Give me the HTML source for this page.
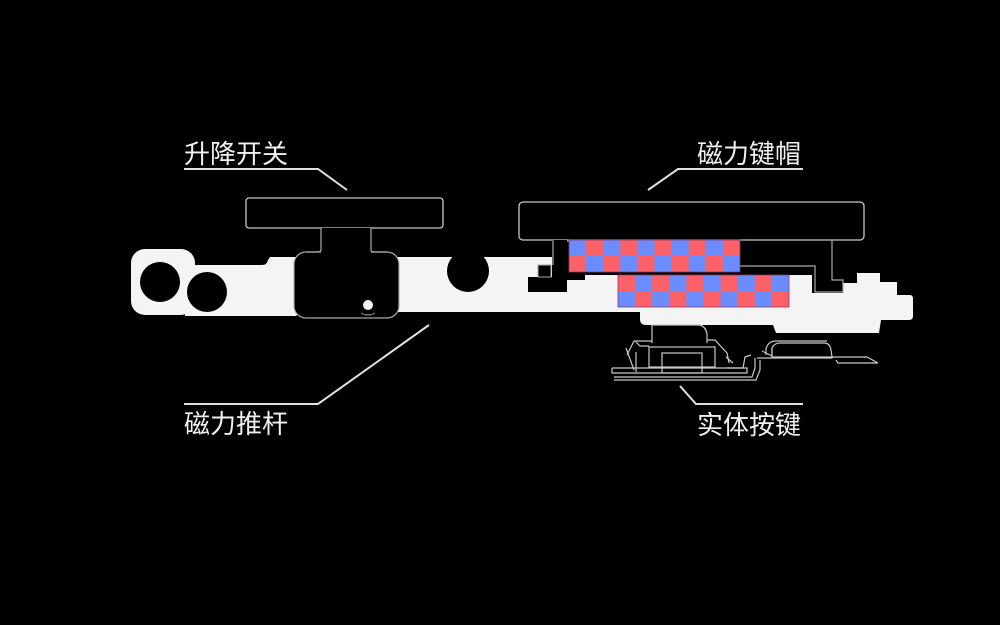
<!DOCTYPE html>
<html>
<head>
<meta charset="utf-8">
<style>
  html, body { margin: 0; padding: 0; background: #000; }
  body { width: 1000px; height: 625px; overflow: hidden; }
  svg { display: block; }
  text { font-family: "Liberation Sans", "Noto Sans CJK SC", sans-serif; font-size: 26px; fill: #f0f0f0; }
</style>
</head>
<body>
<svg width="1000" height="625" viewBox="0 0 1000 625" xmlns="http://www.w3.org/2000/svg">
  <rect x="0" y="0" width="1000" height="625" fill="#000"/>

  <!-- White bar body -->
  <rect x="131" y="249" width="64" height="66" rx="14" fill="#f4f4f4"/>
  <path d="M 185 265 L 262 265 Q 267 265 268 260 L 270 257 L 567 257 L 567 280 L 585 280 L 585 275 L 812 275 L 812 293 L 843 293 L 843 283 L 857 283 L 857 273 L 880 273 L 880 282 L 897 282 L 897 295 L 910 295 Q 913 295 913 299 L 913 316 Q 913 320 909 320 L 881 320 L 879 333 L 776 333 L 773 325 L 646 325 Q 640 325 640 319 L 640 312 L 300 312 L 296 316 L 185 316 Z" fill="#f4f4f4"/>

  <!-- Holes in white bar -->
  <circle cx="160" cy="282" r="20" fill="#000"/>
  <circle cx="207" cy="292" r="20" fill="#000"/>
  <circle cx="468" cy="271" r="21" fill="#000"/>

  <!-- Lift switch (升降开关) -->
  <rect x="246" y="198" width="197" height="30" rx="3" fill="#000" stroke="#c8c8c8" stroke-width="1.3"/>
  <rect x="294" y="252" width="105" height="66" rx="12" fill="#000" stroke="#aaa" stroke-width="1.2"/>
  <rect x="321" y="228" width="50" height="26" fill="#000"/>
  <path d="M 321 228 L 321 250 Q 321 252 317 252 L 306 252" fill="none" stroke="#aaa" stroke-width="1.2"/>
  <path d="M 371 228 L 371 250 Q 371 252 375 252 L 387 252" fill="none" stroke="#aaa" stroke-width="1.2"/>
  <circle cx="368" cy="305" r="5" fill="#f4f4f4"/>
  <path d="M 361 313 Q 368 317 375 313" fill="none" stroke="#aaa" stroke-width="1"/>

  <!-- Magnetic keycap (磁力键帽) -->
  <rect x="519" y="202" width="345" height="38" rx="4" fill="#000" stroke="#c8c8c8" stroke-width="1.3"/>
  <!-- left leg J shape -->
  <rect x="552" y="240" width="15" height="52" fill="#000"/>
  <rect x="528" y="277" width="39" height="15" fill="#000"/>
  <rect x="538" y="265" width="13" height="12" fill="#000" stroke="#aaa" stroke-width="1"/>
  <path d="M 553 240 L 553 265 M 567 241 L 569 241" fill="none" stroke="#aaa" stroke-width="1.2"/>
  <!-- right leg outline -->
  <path d="M 740 266 L 815 266 L 815 292 L 843 292 L 843 280 L 832 280 L 832 240" fill="none" stroke="#aaa" stroke-width="1.2"/>

  <!-- Checker magnet 1 -->
  <g>
    <rect x="569" y="240" width="171" height="32" fill="#6a8cff"/>
    <rect x="586.1" y="240" width="17.1" height="16" fill="#fb6167"/>
    <rect x="620.3" y="240" width="17.1" height="16" fill="#fb6167"/>
    <rect x="654.5" y="240" width="17.1" height="16" fill="#fb6167"/>
    <rect x="688.7" y="240" width="17.1" height="16" fill="#fb6167"/>
    <rect x="722.9" y="240" width="17.1" height="16" fill="#fb6167"/>
    <rect x="569" y="256" width="17.1" height="16" fill="#fb6167"/>
    <rect x="603.2" y="256" width="17.1" height="16" fill="#fb6167"/>
    <rect x="637.4" y="256" width="17.1" height="16" fill="#fb6167"/>
    <rect x="671.6" y="256" width="17.1" height="16" fill="#fb6167"/>
    <rect x="705.8" y="256" width="17.1" height="16" fill="#fb6167"/>
    <rect x="569" y="240" width="171" height="32" fill="none" stroke="#8a3a70" stroke-width="0.8"/>
  </g>

  <!-- Checker magnet 2 -->
  <g>
    <rect x="618" y="275" width="171" height="32" fill="#fb6167"/>
    <rect x="635.1" y="275" width="17.1" height="16" fill="#6a8cff"/>
    <rect x="669.3" y="275" width="17.1" height="16" fill="#6a8cff"/>
    <rect x="703.5" y="275" width="17.1" height="16" fill="#6a8cff"/>
    <rect x="737.7" y="275" width="17.1" height="16" fill="#6a8cff"/>
    <rect x="771.9" y="275" width="17.1" height="16" fill="#6a8cff"/>
    <rect x="618" y="291" width="17.1" height="16" fill="#6a8cff"/>
    <rect x="652.2" y="291" width="17.1" height="16" fill="#6a8cff"/>
    <rect x="686.4" y="291" width="17.1" height="16" fill="#6a8cff"/>
    <rect x="720.6" y="291" width="17.1" height="16" fill="#6a8cff"/>
    <rect x="754.8" y="291" width="17.1" height="16" fill="#6a8cff"/>
    <rect x="618" y="275" width="171" height="32" fill="none" stroke="#8a3a70" stroke-width="0.8"/>
  </g>

  <!-- Physical key mechanism (实体按键) line drawing -->
  <g fill="none" stroke="#c8c8c8" stroke-width="1.2">
    <path d="M 652 343 L 652 325 L 700 325 Q 706 327 707 334 L 707 343"/>
    <path d="M 627 355 L 634 341 L 652 341"/>
    <path d="M 636 342 L 640 346 L 649 346"/>
    <rect x="649" y="347" width="66" height="20"/>
    <rect x="662" y="353" width="40" height="20"/>
    <path d="M 707 340 L 715 340 L 727 353 L 729 363"/>
    <path d="M 726 357 L 733 363"/>
    <path d="M 636 352 L 636 372"/>
    <path d="M 626 348 L 634 370"/>
    <path d="M 612 368 L 612 373 L 747 373 L 747 368 L 612 368"/>
    <path d="M 614 377 L 752 377 L 755 368 L 755 358"/>
    <path d="M 614 380 L 756 380 L 760 370 L 760 360"/>
    <path d="M 727 368 L 743 368 L 745 357 L 751 355"/>
    <path d="M 762 351 L 772 356 L 772 348"/>
    <path d="M 772 357 L 772 348 Q 774 343 780 343 L 824 343 Q 830 343 831 350 L 832 357 Z"/>
    <path d="M 766 355 L 766 349 Q 768 341 776 341 L 827 341"/>
    <path d="M 757 358 L 832 358 L 833 357 L 867 357 L 878 363 L 838 363 L 836 360"/>
  </g>

  <!-- Leader lines -->
  <g fill="none" stroke="#e0e0e0" stroke-width="2">
    <polyline points="184,169 318,169 347,190"/>
    <polyline points="803,169 678,169 648,190"/>
    <polyline points="184,404 318,404 429,325"/>
    <polyline points="803,404 696,404 680,386"/>
  </g>

  <!-- Labels -->
  <text x="184" y="163">升降开关</text>
  <text x="697" y="163">磁力键帽</text>
  <text x="184" y="433">磁力推杆</text>
  <text x="697" y="434">实体按键</text>
</svg>
</body>
</html>
